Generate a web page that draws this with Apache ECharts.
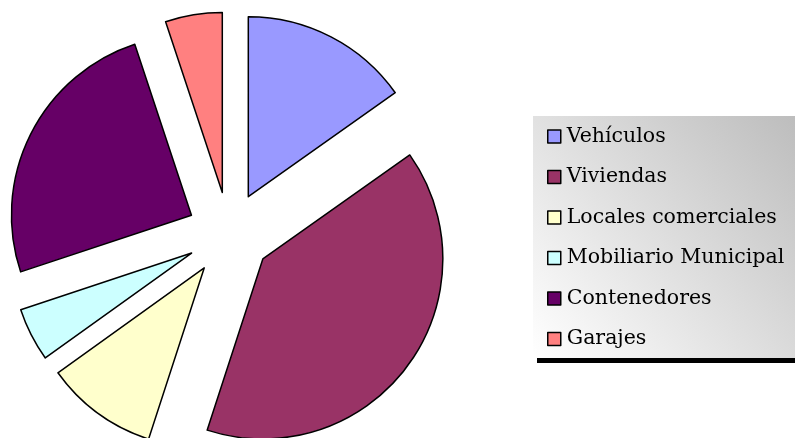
<!DOCTYPE html>
<html>
<head>
<meta charset="utf-8">
<script src="https://cdn.jsdelivr.net/npm/echarts@6/dist/echarts.min.js"></script>
<style>
  html, body { margin: 0; padding: 0; background: #fff; }
  #pieChart { width: 795px; height: 438px; }
</style>
</head>
<body>
<div id="pieChart"></div>
<script>
// categorias y valores (en %)
const categorias = ['Vehículos', 'Viviendas', 'Locales comerciales', 'Mobiliario Municipal', 'Contenedores', 'Garajes'];
const valores = [15.2, 39.8, 10.1, 4.8, 25.0, 5.1];
const colores = ['#9999FF', '#993366', '#FFFFCC', '#CCFFFF', '#660066', '#FF8080'];

let datos = [];
for (let i = 0; i < categorias.length; i++) {
  datos.push({
    name: categorias[i],
    value: valores[i],
    selected: true, // todas las porciones separadas
    itemStyle: { color: colores[i] }
  });
}

let pieEcharts = echarts.init(document.getElementById('pieChart'));
let option = {
  animation: false,
  graphic: [
    {// sombra negra de la leyenda
      type: 'rect',
      shape: { x: 537, y: 120, width: 270, height: 243 },
      style: { fill: '#000' },
      z: 0
    },
    {// fondo degradado de la leyenda
      type: 'rect',
      shape: { x: 533, y: 116, width: 270, height: 242 },
      style: {
        fill: new echarts.graphic.LinearGradient(0, 1, 1, 0, [
          { offset: 0, color: '#ffffff' },
          { offset: 1, color: '#bcbcbc' }
        ])
      },
      z: 1
    }
  ],
  legend: {
    orient: 'vertical',
    left: 542,
    top: 121,
    itemWidth: 13,
    itemHeight: 13,
    itemGap: 19.5,
    icon: 'rect',
    z: 5,
    itemStyle: { borderColor: '#000', borderWidth: 1.5 },
    textStyle: {
      fontFamily: 'DejaVu Serif',
      fontSize: 20.5,
      color: '#000',
      padding: [0, 0, 0, 1]
    },
    data: categorias
  },
  series: [
    {
      type: 'pie',
      center: [229, 234],
      radius: 180,
      startAngle: 90,
      clockwise: true,
      selectedMode: 'multiple',
      selectedOffset: 42,
      avoidLabelOverlap: false,
      label: { show: false },
      labelLine: { show: false },
      emphasis: { disabled: true },
      itemStyle: { borderColor: '#000', borderWidth: 1.5 },
      data: datos
    }
  ]
};
pieEcharts.setOption(option);
</script>
</body>
</html>
